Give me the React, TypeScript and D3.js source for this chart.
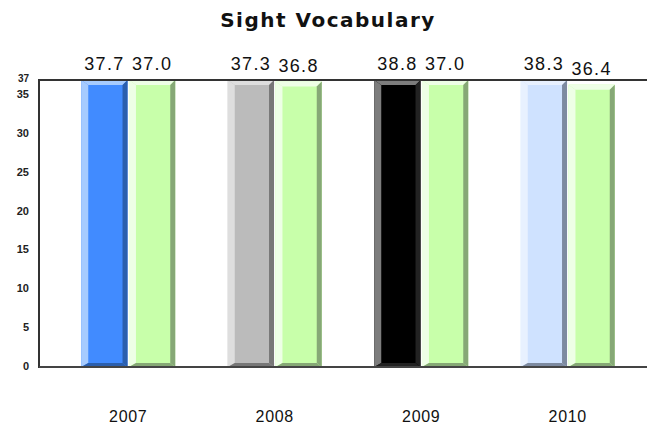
import React from "react";
import * as d3 from "d3";

const years = ["2007", "2008", "2009", "2010"];
const schoolValues = [37.7, 37.3, 38.8, 38.3];
const compareValues = [37.0, 36.8, 37.0, 36.4];
const yTicks = [0, 5, 10, 15, 20, 25, 30, 35, 37];

// first bar changes colour every year, second is always green
const schoolColors = [
  { main: "#418bff", light: "#a6cbff", dark: "#2b5fae" },
  { main: "#bbbbbb", light: "#dedede", dark: "#777777" },
  { main: "#000000", light: "#7d7d7d", dark: "#222222" },
  { main: "#cfe2ff", light: "#e8f1ff", dark: "#7d8aa0" },
];
const greenColor = { main: "#c8ffaa", light: "#eeffe6", dark: "#86a876" };

const W = 647;
const H = 428;
const left = 39;
const top = 80;
const bottom = 367;
const yMax = 37;

type Pal = { main: string; light: string; dark: string };

const BevelBar = ({ x, y, w, h, c }: { x: number; y: number; w: number; h: number; c: Pal }) => {
  const L = 7, R = 5, T = 5, B = 4;
  const pts = (a: number[][]) => a.map((p) => p.join(",")).join(" ");
  return (
    <g>
      <rect x={x} y={y} width={w} height={h} fill={c.main} />
      <polygon points={pts([[x, y], [x + L, y + T], [x + L, y + h - B], [x, y + h]])} fill={c.light} />
      <polygon points={pts([[x, y], [x + w, y], [x + w - R, y + T], [x + L, y + T]])} fill={c.light} />
      <polygon points={pts([[x + w, y], [x + w, y + h], [x + w - R, y + h - B], [x + w - R, y + T]])} fill={c.dark} />
      <polygon points={pts([[x, y + h], [x + w, y + h], [x + w - R, y + h - B], [x + L, y + h - B]])} fill={c.dark} />
    </g>
  );
};

export default function App() {
  const y = d3.scaleLinear().domain([0, yMax]).range([bottom, top]);
  const x = d3.scaleBand().domain(years).range([55, 641]);
  const inner = d3.scaleBand().domain(["school", "compare"]).range([-47, 47]).paddingInner(0.03);

  const bars = years.flatMap((yr, i) => [
    { yr, key: "school", v: schoolValues[i], c: schoolColors[i] },
    { yr, key: "compare", v: compareValues[i], c: greenColor },
  ]);

  return (
    <svg width={W} height={H} style={{ position: "absolute", left: 0, top: 0, background: "#fff" }}>
      <text
        x={328}
        y={27}
        textAnchor="middle"
        fontFamily="DejaVu Sans, sans-serif"
        fontWeight="bold"
        fontSize={20}
        letterSpacing={1.5}
        fill="#111"
      >
        Sight Vocabulary
      </text>

      {bars.map((b, i) => {
        const cx = (x(b.yr) as number) + x.bandwidth() / 2;
        const bx = cx + (inner(b.key) as number);
        const bw = inner.bandwidth();
        const by = y(Math.min(b.v, yMax));
        return (
          <g key={i}>
            <BevelBar x={bx} y={by} w={bw} h={bottom - by} c={b.c} />
            <text
              x={bx + bw / 2}
              y={by - 10}
              textAnchor="middle"
              fontFamily="Liberation Sans, Arial, sans-serif"
              fontSize={18}
              letterSpacing={1.3}
              fill="#111"
            >
              {b.v.toFixed(1)}
            </text>
          </g>
        );
      })}

      {/* frame: top line, left axis, baseline */}
      <line x1={left} x2={W} y1={top} y2={top} stroke="#333" strokeWidth={2} />
      <line x1={left} x2={left} y1={top - 1} y2={bottom + 1} stroke="#333" strokeWidth={2} />
      <line x1={left} x2={W} y1={bottom} y2={bottom} stroke="#444" strokeWidth={2} />

      {yTicks.map((t) => (
        <text
          key={t}
          x={29}
          y={y(t) - (t === 37 ? 2 : 1)}
          dy="0.35em"
          textAnchor="end"
          fontFamily="Liberation Sans, Arial, sans-serif"
          fontWeight="bold"
          fontSize={t === 37 ? 10 : 11}
          fill="#222"
        >
          {t}
        </text>
      ))}

      {years.map((yr) => (
        <text
          key={yr}
          x={(x(yr) as number) + x.bandwidth() / 2}
          y={422}
          textAnchor="middle"
          fontFamily="Liberation Sans, Arial, sans-serif"
          fontSize={16}
          letterSpacing={0.7}
          fill="#111"
        >
          {yr}
        </text>
      ))}
    </svg>
  );
}
